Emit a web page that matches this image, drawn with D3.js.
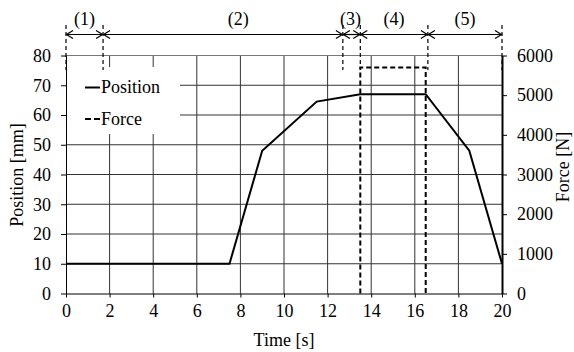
<!DOCTYPE html>
<html><head><meta charset="utf-8">
<script src="https://cdn.jsdelivr.net/npm/d3@7"></script>
</head><body style="margin:0"><svg id="c" width="574" height="352"></svg>
<script>
const time = [0, 7.5, 9, 11.5, 13.5, 16.5, 18.5, 20];
const position = [10, 10, 48, 64.5, 67, 67, 48, 10];
const forceTime = [13.5, 13.5, 16.5, 16.5];
const force = [0, 5700, 5700, 0];
const phaseBounds = [0, 1.7, 12.7, 13.5, 16.6, 20];
const phaseLabels = ["(1)", "(2)", "(3)", "(4)", "(5)"];
const phaseLabelX = [0.85, 7.9, 13.05, 15.05, 18.3];
const xTicks = [0, 2, 4, 6, 8, 10, 12, 14, 16, 18, 20];
const yTicks = [0, 10, 20, 30, 40, 50, 60, 70, 80];
const fTicks = [0, 1000, 2000, 3000, 4000, 5000, 6000];
const seriesNames = ["Position", "Force"];

const FONT = "'Liberation Serif'";
const fs = 18;
const svg = d3.select("#c");
const L = 66, R = 502, T = 55.5, B = 293.5;
const x = d3.scaleLinear().domain([0, 20]).range([L, R]);
const y = d3.scaleLinear().domain([0, 80]).range([B, T]);
const yf = d3.scaleLinear().domain([0, 6000]).range([B, T]);

function txt(sel) {
  return sel.attr("font-family", FONT).style("font-family", FONT).attr("font-size", fs).attr("fill", "#000");
}

// grid
const g = svg.append("g");
g.selectAll(".vg").data(xTicks.slice(1, -1)).join("line")
  .attr("x1", d => x(d)).attr("x2", d => x(d)).attr("y1", T).attr("y2", B)
  .attr("stroke", "#333").attr("stroke-width", 1);
g.selectAll(".hg").data(yTicks.slice(1)).join("line")
  .attr("x1", L).attr("x2", R).attr("y1", d => y(d)).attr("y2", d => y(d))
  .attr("stroke", d => d === 80 ? "#777" : "#333").attr("stroke-width", 1);

// legend box (covers grid)
svg.append("rect").attr("x", 67).attr("y", 67).attr("width", 113).attr("height", 67).attr("fill", "#fff");

// axes
const ax = svg.append("g").attr("transform", `translate(0,${B})`)
  .call(d3.axisBottom(x).tickValues(xTicks).tickSize(4).tickSizeOuter(0).tickPadding(7).tickFormat(d3.format("d")));
const ayl = svg.append("g").attr("transform", `translate(${L},0)`)
  .call(d3.axisLeft(y).tickValues(yTicks).tickSize(5).tickSizeOuter(0).tickPadding(10).tickFormat(d3.format("d")));
const ayr = svg.append("g").attr("transform", `translate(${R},0)`)
  .call(d3.axisRight(yf).tickValues(fTicks).tickSize(5).tickSizeOuter(0).tickPadding(10).tickFormat(d3.format("d")));
[ax, ayl, ayr].forEach(a => {
  a.attr("font-family", FONT).attr("font-size", fs);
  txt(a.selectAll("text"));
  a.selectAll("line").attr("stroke", "#000");
  a.select(".domain").attr("stroke", "#000");
});
ayr.select(".domain").attr("stroke-width", 2);

// position line
svg.append("path").datum(time.map((t, i) => [t, position[i]]))
  .attr("fill", "none").attr("stroke", "#000").attr("stroke-width", 2)
  .attr("d", d3.line().x(d => x(d[0])).y(d => y(d[1])));

// force line
svg.append("path").datum(forceTime.map((t, i) => [t, force[i]]))
  .attr("fill", "none").attr("stroke", "#000").attr("stroke-width", 2)
  .attr("stroke-dasharray", "5,3")
  .attr("d", d3.line().x(d => x(d[0])).y(d => yf(d[1])));

// phase markers
svg.selectAll(".pm").data(phaseBounds).join("line")
  .attr("x1", d => x(d)).attr("x2", d => x(d)).attr("y1", 25).attr("y2", 70)
  .attr("stroke", "#000").attr("stroke-width", 1.2).attr("stroke-dasharray", "4,3");

const ay = 34.5;
const segs = d3.pairs(phaseBounds);
svg.selectAll(".pa").data(segs).join("line")
  .attr("x1", d => x(d[0])).attr("x2", d => x(d[1])).attr("y1", ay).attr("y2", ay)
  .attr("stroke", "#000").attr("stroke-width", 1.2);
const heads = [];
segs.forEach(s => { heads.push([x(s[0]), 1]); heads.push([x(s[1]), -1]); });
svg.selectAll(".ah").data(heads).join("path")
  .attr("d", d => `M${d[0] + d[1] * 7},${ay - 4} L${d[0] + d[1] * 0.5},${ay} L${d[0] + d[1] * 7},${ay + 4}`)
  .attr("fill", "none").attr("stroke", "#000").attr("stroke-width", 1.2);
txt(svg.selectAll(".pl").data(phaseLabels).join("text")
  .attr("x", (d, i) => x(phaseLabelX[i])).attr("y", 25)
  .attr("text-anchor", "middle").text(d => d));

// legend
const lg = svg.append("g");
lg.append("line").attr("x1", 85).attr("x2", 100).attr("y1", 87.5).attr("y2", 87.5)
  .attr("stroke", "#000").attr("stroke-width", 2);
lg.append("line").attr("x1", 85).attr("x2", 100).attr("y1", 119).attr("y2", 119)
  .attr("stroke", "#000").attr("stroke-width", 2).attr("stroke-dasharray", "6,3");
txt(lg.selectAll("text").data(seriesNames).join("text")
  .attr("x", 101).attr("y", (d, i) => 93 + i * 32).text(d => d));

// axis titles
txt(svg.append("text").attr("x", 284).attr("y", 346).attr("text-anchor", "middle").text("Time [s]"));
txt(svg.append("text").attr("transform", "translate(23,175) rotate(-90)").attr("text-anchor", "middle").text("Position [mm]"));
txt(svg.append("text").attr("transform", "translate(569,167) rotate(-90)").attr("text-anchor", "middle").text("Force [N]"));
</script></body></html>
